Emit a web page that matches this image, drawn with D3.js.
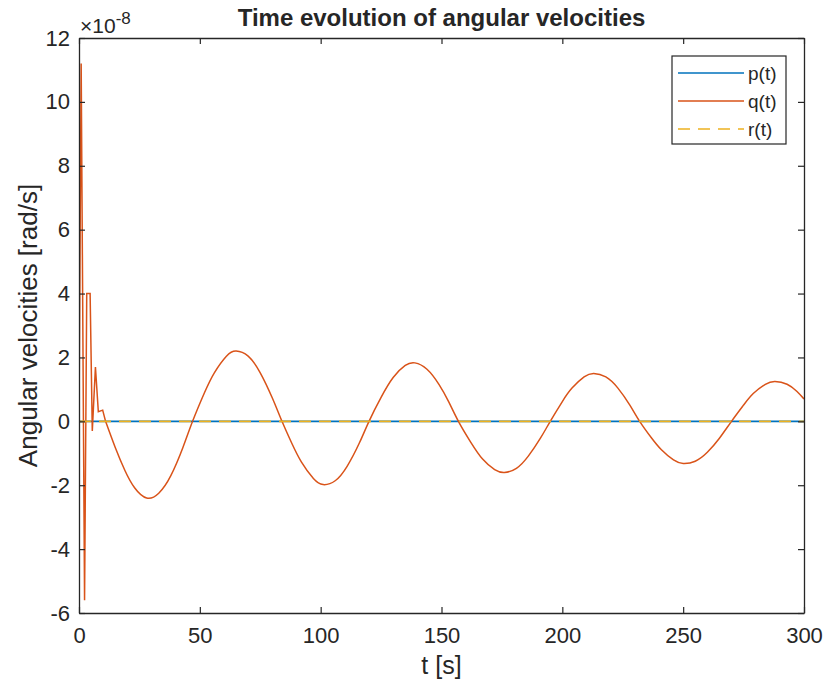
<!DOCTYPE html>
<html>
<head>
<meta charset="utf-8">
<script src="https://cdn.jsdelivr.net/npm/d3@7"></script>
<style>
  html, body { margin: 0; padding: 0; background: #fff; }
  svg { display: block; }
  text { font-family: "Liberation Sans", Arial, Helvetica, sans-serif; fill: #262626; }
</style>
</head>
<body>
<svg id="chart" width="827" height="689"></svg>
<script>
// ---- Data (values in units of 1e-8 rad/s) ----
const seriesNames = ["p(t)", "q(t)", "r(t)"];
const xTicks = [0, 50, 100, 150, 200, 250, 300];
const yTicks = [-6, -4, -2, 0, 2, 4, 6, 8, 10, 12];

// p(t) and r(t) stay at zero across the run
const pT = [0, 300];
const pV = [0, 0];
const rT = [0, 300];
const rV = [0, 0];

// q(t): initial transient (piecewise linear)
const qTransT = [0, 0.9, 2.3, 3.2, 4.6, 5.5, 6.8, 8.0, 9.8, 11];
const qTransV = [0, 11.2, -5.6, 4.0, 4.0, -0.3, 1.7, 0.3, 0.35, 0];

// q(t): decaying oscillation (smooth)
const qOscT = [11, 15, 19, 23, 28, 33, 38, 43, 47,
               52, 56, 61, 65, 70, 75, 80, 84,
               88, 92, 97, 101, 106, 111, 116, 120,
               125, 130, 135, 139, 144, 149, 153, 157,
               162, 167, 172, 176, 181, 186, 191, 195,
               200, 204, 209, 213, 218, 223, 228, 232,
               237, 241, 246, 250, 255, 260, 265, 270,
               275, 279, 284, 288, 293, 297, 300];
const qOscV = [0, -0.82, -1.54, -2.08, -2.4, -2.25, -1.7, -0.82, 0,
               0.91, 1.52, 2.04, 2.2, 2.04, 1.52, 0.73, 0,
               -0.68, -1.27, -1.79, -1.98, -1.86, -1.4, -0.68, 0,
               0.75, 1.37, 1.75, 1.83, 1.63, 1.15, 0.61, 0,
               -0.64, -1.18, -1.51, -1.6, -1.47, -1.08, -0.52, 0,
               0.62, 1.04, 1.39, 1.5, 1.39, 1.04, 0.5, 0,
               -0.53, -0.89, -1.21, -1.32, -1.25, -0.97, -0.53, 0,
               0.51, 0.87, 1.16, 1.25, 1.16, 0.94, 0.7];

// ---- Layout ----
const svg = d3.select("#chart");
const margin = { left: 79, right: 23, top: 38, bottom: 76 };
const W = 827, H = 689;
const x0 = margin.left, x1 = W - margin.right;
const y0 = margin.top, y1 = H - margin.bottom;

const x = d3.scaleLinear().domain([0, 300]).range([x0, x1]);
const y = d3.scaleLinear().domain([-6, 12]).range([y1, y0]);

const colors = { p: "#0072BD", q: "#D95319", r: "#EDB120" };
const axisColor = "#262626";
const fmt = d => String(d);

svg.append("defs").append("clipPath").attr("id", "clip")
  .append("rect").attr("x", x0).attr("y", y0).attr("width", x1 - x0).attr("height", y1 - y0);

const plot = svg.append("g").attr("clip-path", "url(#clip)");

const lineLin = d3.line().x(d => x(d[0])).y(d => y(d[1]));
const lineSmooth = d3.line().x(d => x(d[0])).y(d => y(d[1])).curve(d3.curveNatural);

// p(t)
plot.append("path").datum(d3.zip(pT, pV)).attr("d", lineLin)
  .attr("fill", "none").attr("stroke", colors.p).attr("stroke-width", 1.7);
// q(t)
plot.append("path").datum(d3.zip(qTransT, qTransV)).attr("d", lineLin)
  .attr("fill", "none").attr("stroke", colors.q).attr("stroke-width", 1.5).attr("stroke-linejoin", "miter");
plot.append("path").datum(d3.zip(qOscT, qOscV)).attr("d", lineSmooth)
  .attr("fill", "none").attr("stroke", colors.q).attr("stroke-width", 1.5);
// r(t) dashed
plot.append("path").datum(d3.zip(rT, rV)).attr("d", lineLin)
  .attr("fill", "none").attr("stroke", colors.r).attr("stroke-width", 1.7)
  .attr("stroke-dasharray", "12,8");

// ---- Axes (box with inward ticks on all sides) ----
const tickLen = 6;
const axB = svg.append("g").attr("transform", `translate(0,${y1})`)
  .call(d3.axisBottom(x).tickValues(xTicks).tickSizeInner(-tickLen).tickSizeOuter(0).tickPadding(14).tickFormat(fmt));
const axT = svg.append("g").attr("transform", `translate(0,${y0})`)
  .call(d3.axisTop(x).tickValues(xTicks).tickSizeInner(-tickLen).tickSizeOuter(0).tickFormat(""));
const axL = svg.append("g").attr("transform", `translate(${x0},0)`)
  .call(d3.axisLeft(y).tickValues(yTicks).tickSizeInner(-tickLen).tickSizeOuter(0).tickPadding(9).tickFormat(fmt));
const axR = svg.append("g").attr("transform", `translate(${x1},0)`)
  .call(d3.axisRight(y).tickValues(yTicks).tickSizeInner(-tickLen).tickSizeOuter(0).tickFormat(""));

[axB, axT, axL, axR].forEach(a => {
  a.select(".domain").attr("stroke", axisColor).attr("stroke-width", 1.3);
  a.selectAll(".tick line").attr("stroke", axisColor).attr("stroke-width", 1.2);
  a.selectAll(".tick text").attr("font-size", 22).attr("fill", "#262626")
    .attr("font-family", "'Liberation Sans', Arial, sans-serif");
});

// ---- Exponent label ----
const expo = svg.append("text").attr("x", x0 + 1).attr("y", 33).attr("font-size", 21);
expo.append("tspan").text("\u00d710");
expo.append("tspan").attr("dy", -9).attr("font-size", 17).text("-8");

// ---- Title & axis labels ----
svg.append("text").attr("x", (x0 + x1) / 2).attr("y", 26).attr("text-anchor", "middle")
  .attr("font-size", 24).attr("font-weight", "bold").attr("fill", "#000")
  .text("Time evolution of angular velocities");
svg.append("text").attr("x", (x0 + x1) / 2).attr("y", 674).attr("text-anchor", "middle")
  .attr("font-size", 25).text("t [s]");
svg.append("text").attr("transform", `translate(37,${(y0 + y1) / 2}) rotate(-90)`)
  .attr("text-anchor", "middle").attr("font-size", 26).text("Angular velocities [rad/s]");

// ---- Legend ----
const lg = svg.append("g");
const lgX = 672, lgY = 56, lgW = 114, lgH = 88;
lg.append("rect").attr("x", lgX).attr("y", lgY).attr("width", lgW).attr("height", lgH)
  .attr("fill", "#fff").attr("stroke", axisColor).attr("stroke-width", 1.2);
const legendItems = [
  { name: seriesNames[0], color: colors.p, dash: null },
  { name: seriesNames[1], color: colors.q, dash: null },
  { name: seriesNames[2], color: colors.r, dash: "12,8" }
];
legendItems.forEach((it, i) => {
  const cy = lgY + 17 + i * 28;
  lg.append("line").attr("x1", lgX + 6).attr("x2", lgX + 72).attr("y1", cy).attr("y2", cy)
    .attr("stroke", it.color).attr("stroke-width", 1.7)
    .attr("stroke-dasharray", it.dash);
  lg.append("text").attr("x", lgX + 76).attr("y", cy + 7).attr("font-size", 19).text(it.name);
});
</script>
</body>
</html>
